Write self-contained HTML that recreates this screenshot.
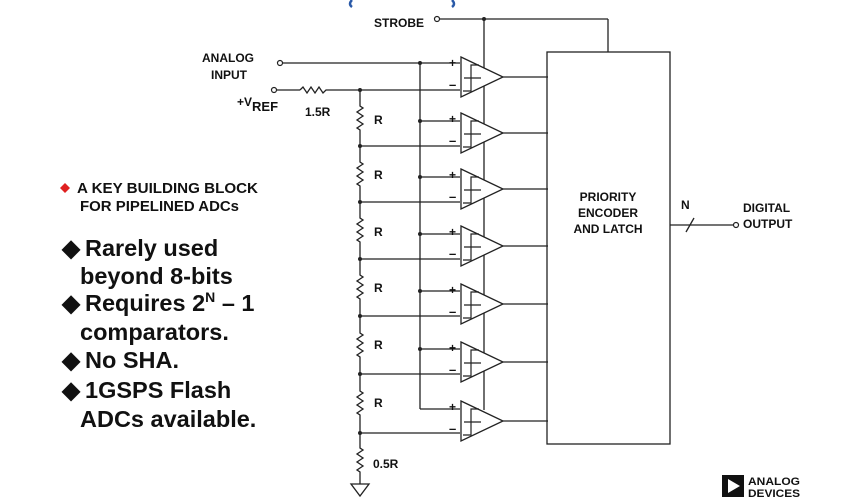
<!DOCTYPE html>
<html><head><meta charset="utf-8"><style>
body{margin:0;background:#fff;width:860px;height:504px;overflow:hidden}
svg{display:block}
text{font-family:"Liberation Sans",Arial,sans-serif;font-weight:bold;fill:#111}
</style></head><body>
<svg width="860" height="504" viewBox="0 0 860 504" xmlns="http://www.w3.org/2000/svg">
<path d="M352 0 Q348 4 352 7" stroke="#2a5aa8" stroke-width="2.5" fill="none"/>
<path d="M452 0 Q456 4 452 7" stroke="#2a5aa8" stroke-width="2.5" fill="none"/>

<g stroke="#222" stroke-width="1.3" fill="none">
<line x1="440" y1="19" x2="608" y2="19"/>
<line x1="608" y1="19" x2="608" y2="52"/>
<line x1="484" y1="19" x2="484" y2="410"/>
<line x1="283" y1="63" x2="460" y2="63"/>
<line x1="420" y1="63" x2="420" y2="409"/>
<line x1="420" y1="121" x2="460" y2="121"/>
<line x1="420" y1="177" x2="460" y2="177"/>
<line x1="420" y1="234" x2="460" y2="234"/>
<line x1="420" y1="291" x2="460" y2="291"/>
<line x1="420" y1="349" x2="460" y2="349"/>
<line x1="420" y1="409" x2="460" y2="409"/>
<line x1="277" y1="90" x2="300" y2="90"/>
<path d="M300 90 l3 -3 l4 6 l4 -6 l4 6 l4 -6 l4 6 l3 -3 L460 90"/>
<path d="M360 90 L360 106 l3 2 l-6 4 l6 4 l-6 4 l6 4 l-6 4 l3 2 L360 146"/>
<path d="M360 146 L360 162 l3 2 l-6 4 l6 4 l-6 4 l6 4 l-6 4 l3 2 L360 202"/>
<path d="M360 202 L360 218 l3 2 l-6 4 l6 4 l-6 4 l6 4 l-6 4 l3 2 L360 259"/>
<path d="M360 259 L360 275 l3 2 l-6 4 l6 4 l-6 4 l6 4 l-6 4 l3 2 L360 316"/>
<path d="M360 316 L360 333 l3 2 l-6 4 l6 4 l-6 4 l6 4 l-6 4 l3 2 L360 374"/>
<path d="M360 374 L360 391 l3 2 l-6 4 l6 4 l-6 4 l6 4 l-6 4 l3 2 L360 433"/>
<path d="M360 433 L360 448 l3 2 l-6 4 l6 4 l-6 4 l6 4 l-6 4 l3 2 L360 484"/>
<path d="M351 484 L369 484 L360 496 Z"/>
<line x1="360" y1="146" x2="460" y2="146"/>
<line x1="360" y1="202" x2="460" y2="202"/>
<line x1="360" y1="259" x2="460" y2="259"/>
<line x1="360" y1="316" x2="460" y2="316"/>
<line x1="360" y1="374" x2="460" y2="374"/>
<line x1="360" y1="433" x2="460" y2="433"/>
<rect x="547" y="52" width="123" height="392"/>
<line x1="670" y1="225" x2="733" y2="225"/>
<line x1="686" y1="232" x2="694" y2="218"/>
</g>
<g fill="#fff" stroke="#222" stroke-width="1.2">
<circle cx="437" cy="19" r="2.5"/>
<circle cx="280" cy="63" r="2.5"/>
<circle cx="274" cy="90" r="2.5"/>
<circle cx="736" cy="225" r="2.5"/>
</g>
<g fill="#222">
<circle cx="484" cy="19" r="2"/><circle cx="420" cy="63" r="2"/>
<circle cx="360" cy="90" r="2"/><circle cx="360" cy="146" r="2"/><circle cx="360" cy="202" r="2"/>
<circle cx="360" cy="259" r="2"/><circle cx="360" cy="316" r="2"/><circle cx="360" cy="374" r="2"/><circle cx="360" cy="433" r="2"/>
<circle cx="420" cy="121" r="2"/><circle cx="420" cy="177" r="2"/><circle cx="420" cy="234" r="2"/><circle cx="420" cy="291" r="2"/><circle cx="420" cy="349" r="2"/>
</g>
<defs>
<g id="cmp">
<path d="M0 -20 L42 0 L0 20 Z" fill="#fff" stroke="#222" stroke-width="1.3"/>
<path d="M2 14 L10 14 L10 -12 L18 -12 M3 1 L20 1" stroke="#222" stroke-width="1.2" fill="none"/>
<line x1="42" y1="0" x2="87" y2="0" stroke="#222" stroke-width="1.3"/>
<text x="-12" y="-10" font-size="12">+</text>
<text x="-12" y="12" font-size="13">–</text>
</g>
</defs>
<use href="#cmp" x="461" y="77"/>
<use href="#cmp" x="461" y="133"/>
<use href="#cmp" x="461" y="189"/>
<use href="#cmp" x="461" y="246"/>
<use href="#cmp" x="461" y="304"/>
<use href="#cmp" x="461" y="362"/>
<use href="#cmp" x="461" y="421"/>

<g font-size="12">
<text x="374" y="27">STROBE</text>
<text x="202" y="62">ANALOG</text>
<text x="211" y="79">INPUT</text>
<text x="237" y="106">+V<tspan font-size="13" dy="5">REF</tspan></text>
<text x="305" y="116">1.5R</text>
<text x="374" y="124">R</text><text x="374" y="179">R</text><text x="374" y="236">R</text>
<text x="374" y="292">R</text><text x="374" y="349">R</text><text x="374" y="407">R</text>
<text x="373" y="468">0.5R</text>
<text x="608" y="201" text-anchor="middle">PRIORITY</text>
<text x="608" y="217" text-anchor="middle">ENCODER</text>
<text x="608" y="233" text-anchor="middle">AND LATCH</text>
<text x="681" y="209">N</text>
<text x="743" y="212">DIGITAL</text>
<text x="743" y="228">OUTPUT</text>
</g>
<path d="M65 183 L70 188 L65 193 L60 188 Z" fill="#e02020"/>
<text x="77" y="193" font-size="14.5" textLength="181" lengthAdjust="spacingAndGlyphs">A KEY BUILDING BLOCK</text>
<text x="80" y="211" font-size="14.5" textLength="159" lengthAdjust="spacingAndGlyphs">FOR PIPELINED ADCs</text>
<g font-size="23.5">
<text x="62" y="256">◆<tspan x="85">Rarely used</tspan></text>
<text x="80" y="284">beyond 8-bits</text>
<text x="62" y="311">◆<tspan x="85">Requires 2</tspan><tspan font-size="14" dy="-9">N</tspan><tspan dy="9"> – 1</tspan></text>
<text x="80" y="340">comparators.</text>
<text x="62" y="368">◆<tspan x="85">No SHA.</tspan></text>
<text x="62" y="398">◆<tspan x="85">1GSPS Flash</tspan></text>
<text x="80" y="427">ADCs available.</text>
</g>
<rect x="722" y="475" width="22" height="22" fill="#111"/>
<path d="M728 479 L740 486 L728 493 Z" fill="#fff"/>
<text x="748" y="485" font-size="11" textLength="52" lengthAdjust="spacingAndGlyphs">ANALOG</text>
<text x="748" y="497" font-size="11" textLength="52" lengthAdjust="spacingAndGlyphs">DEVICES</text>
</svg>
</body></html>
